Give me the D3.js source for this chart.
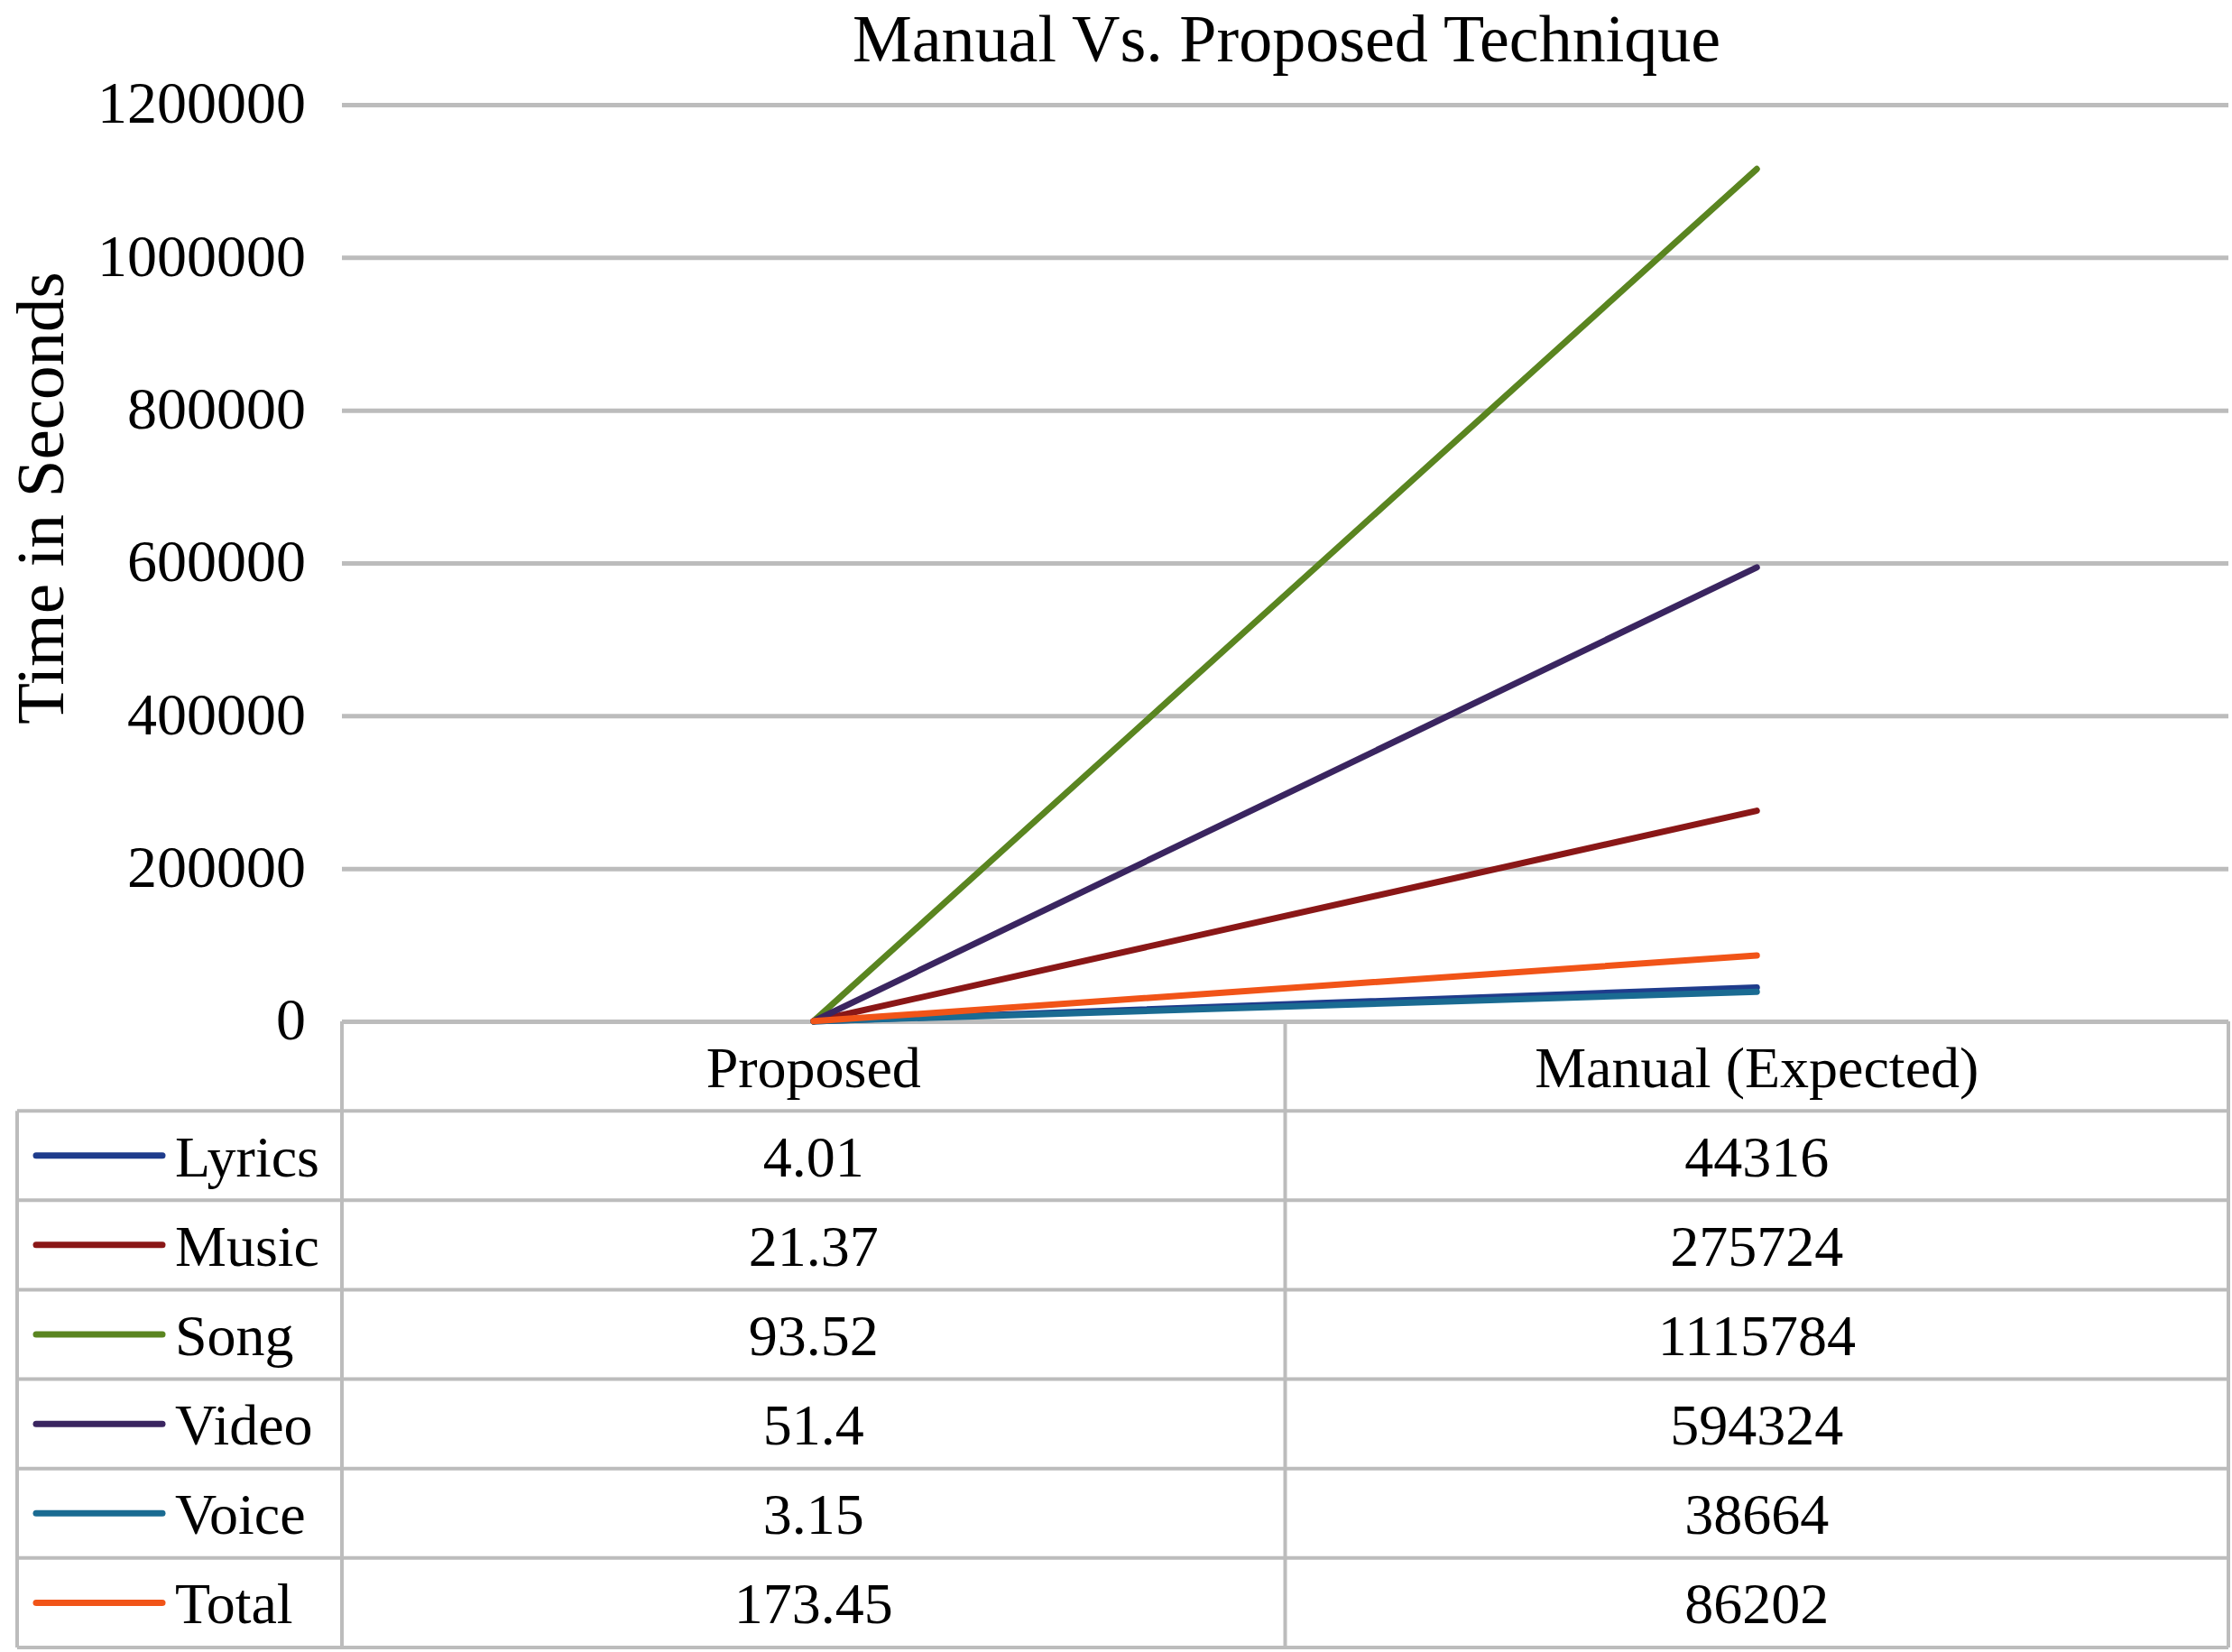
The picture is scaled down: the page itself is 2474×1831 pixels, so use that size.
<!DOCTYPE html>
<meta charset="utf-8">
<style>
body { margin: 0; background: #fff; }
text { font-family: "Liberation Serif", "Times New Roman", serif; fill: #000; }
</style>
<body>
<script src="https://d3js.org/d3.v7.min.js"></script>
<script>

width = 2474;
height = 1831;

categories = ["Proposed", "Manual (Expected)"];
seriesNames = ["Lyrics", "Music", "Song", "Video", "Voice", "Total"];
proposedValues = [4.01, 21.37, 93.52, 51.4, 3.15, 173.45];
manualValues = [44316, 275724, 1115784, 594324, 38664, 86202];
proposedLabels = ["4.01", "21.37", "93.52", "51.4", "3.15", "173.45"];
manualLabels = ["44316", "275724", "1115784", "594324", "38664", "86202"];
yTicks = [0, 200000, 400000, 600000, 800000, 1000000, 1200000];
seriesColors = ["#1f3c8c", "#8a1717", "#5a8520", "#3a2560", "#1a6b92", "#f15418"];

plot = {left: 379, right: 2470, top: 116, bottom: 1132};
tableBottom = 1826;
legendLeft = 19;

var svg = d3.select("body").append("svg")
    .attr("width", width)
    .attr("height", height)

xScale = d3.scaleBand(categories, [plot.left, plot.right]).padding(0)
yScale = d3.scaleLinear([0, 1200000], [plot.bottom, plot.top])
color = d3.scaleOrdinal(seriesNames, seriesColors)

// gridlines + tick labels
yAxis = svg.append("g")
    .attr("transform", `translate(${plot.left},0)`)
    .call(d3.axisLeft(yScale)
      .tickValues(yTicks)
      .tickFormat(d3.format("d"))
      .tickSize(-(plot.right - plot.left))
      .tickPadding(40))
yAxis.select(".domain").remove()
yAxis.selectAll(".tick line").attr("stroke", "#bcbcbc").attr("stroke-width", 5)
yAxis.selectAll(".tick text")
    .style("font-family", '"Liberation Serif", serif')
    .style("font-size", "66px")
    .attr("fill", "#000")
    .attr("dy", "0.3em")

// title
svg.append("text")
    .attr("x", 1426)
    .attr("y", 68)
    .attr("text-anchor", "middle")
    .style("font-size", "74px")
    .text("Manual Vs. Proposed Technique")

// y axis title
svg.append("text")
    .attr("transform", "translate(70,552) rotate(-90)")
    .attr("text-anchor", "middle")
    .style("font-size", "75px")
    .text("Time in Seconds")

// table rows
rows = ["header"].concat(seriesNames)
rowScale = d3.scaleBand(rows, [plot.bottom, tableBottom])

table = svg.append("g")
    .attr("stroke", "#bcbcbc")
    .attr("stroke-width", 4)
    .attr("fill", "none")

// horizontal rule under each row
rows.forEach(function(r, i) {
  var yb = rowScale(r) + rowScale.bandwidth();
  table.append("line")
    .attr("x1", legendLeft).attr("x2", plot.right)
    .attr("y1", yb).attr("y2", yb)
})
// verticals
;[plot.left, xScale(categories[1]), plot.right].forEach(function(x) {
  table.append("line")
    .attr("x1", x).attr("x2", x)
    .attr("y1", plot.bottom).attr("y2", tableBottom)
})
table.append("line")
    .attr("x1", legendLeft).attr("x2", legendLeft)
    .attr("y1", rowScale(seriesNames[0])).attr("y2", tableBottom)

// header text
svg.selectAll(".head")
    .data(categories)
    .join("text")
    .attr("x", d => xScale(d) + xScale.bandwidth() / 2)
    .attr("y", rowScale("header") + rowScale.bandwidth() / 2 + 23)
    .attr("text-anchor", "middle")
    .style("font-size", "64px")
    .text(d => d)

// values + legend keys
seriesNames.forEach(function(s, i) {
  var cy = rowScale(s) + rowScale.bandwidth() / 2;
  [proposedLabels[i], manualLabels[i]].forEach(function(v, j) {
    svg.append("text")
      .attr("x", xScale(categories[j]) + xScale.bandwidth() / 2)
      .attr("y", cy + 23)
      .attr("text-anchor", "middle")
      .style("font-size", "64px")
      .text(v)
  })
  svg.append("line")
    .attr("x1", 40).attr("x2", 180)
    .attr("y1", cy).attr("y2", cy)
    .attr("stroke", color(s))
    .attr("stroke-width", 7)
    .attr("stroke-linecap", "round")
  svg.append("text")
    .attr("x", 194)
    .attr("y", cy + 23)
    .style("font-size", "64px")
    .text(s)
})

// lines
lineData = seriesNames.map((s, i) => ({
  name: s,
  values: [
    {cat: categories[0], v: proposedValues[i]},
    {cat: categories[1], v: manualValues[i]}
  ]
}))

line = d3.line()
    .x(d => xScale(d.cat) + xScale.bandwidth() / 2)
    .y(d => yScale(d.v))

svg.append("g")
  .selectAll("path")
  .data(lineData)
  .join("path")
    .attr("d", d => line(d.values))
    .attr("fill", "none")
    .attr("stroke", d => color(d.name))
    .attr("stroke-width", 7)
    .attr("stroke-linecap", "round")

</script>
